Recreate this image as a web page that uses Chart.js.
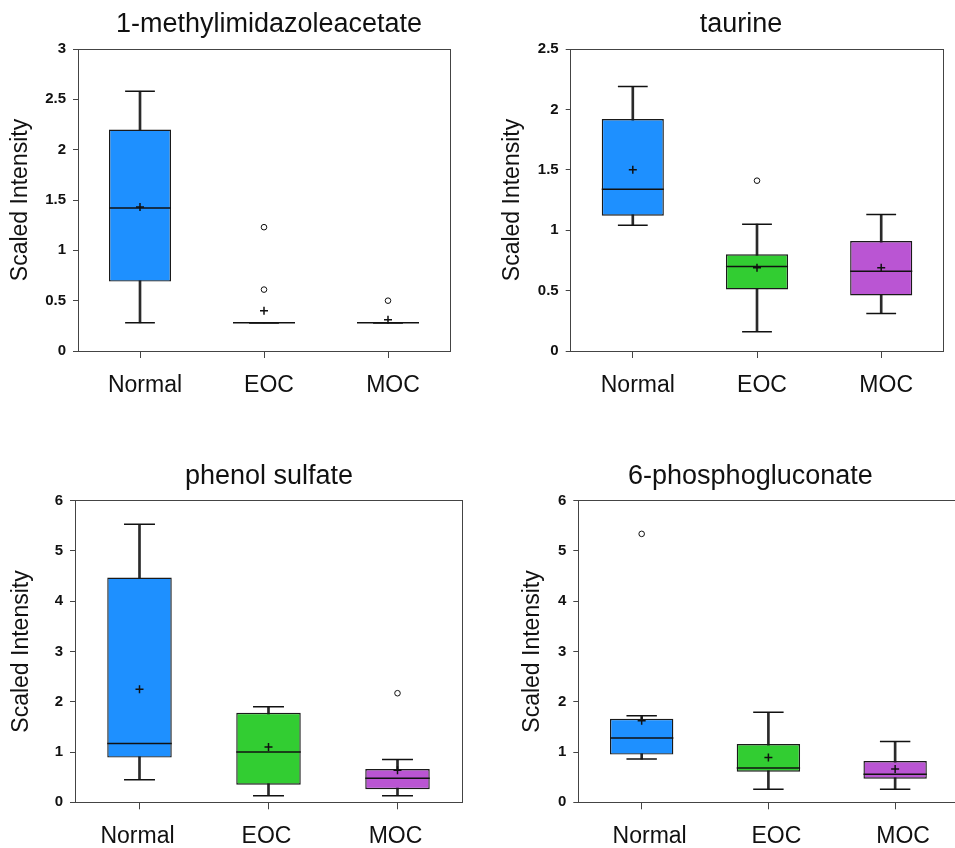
<!DOCTYPE html>
<html><head><meta charset="utf-8">
<script src="https://cdn.jsdelivr.net/npm/chart.js@4.4.1/dist/chart.umd.min.js"></script>
<style>
html,body{margin:0;padding:0;background:#fff;width:955px;height:848px;overflow:hidden;position:relative}
canvas{position:absolute}
</style></head><body>
<canvas id="c1"></canvas>
<canvas id="c2"></canvas>
<canvas id="c3"></canvas>
<canvas id="c4"></canvas>
<script>
// ---------- data ----------
const categories = ['Normal', 'EOC', 'MOC'];
const boxColors = ['#1e90ff', '#32cd32', '#ba55d3'];
const yAxisTitle = 'Scaled Intensity';

// 1-methylimidazoleacetate
const title1 = '1-methylimidazoleacetate';
const min1 = [0.28, 0.28, 0.28];
const q1_1 = [0.69, 0.28, 0.28];
const med1 = [1.42, 0.28, 0.28];
const q3_1 = [2.20, 0.28, 0.28];
const max1 = [2.58, 0.28, 0.28];
const mean1 = [1.43, 0.40, 0.31];
const out1 = [[], [1.23, 0.61], [0.50]];
const ticks1 = [0, 0.5, 1, 1.5, 2, 2.5, 3];

// taurine
const title2 = 'taurine';
const min2 = [1.04, 0.16, 0.31];
const q1_2 = [1.12, 0.51, 0.46];
const med2 = [1.34, 0.70, 0.66];
const q3_2 = [1.92, 0.80, 0.91];
const max2 = [2.19, 1.05, 1.13];
const mean2 = [1.50, 0.69, 0.69];
const out2 = [[], [1.41], []];
const ticks2 = [0, 0.5, 1, 1.5, 2, 2.5];

// phenol sulfate
const title3 = 'phenol sulfate';
const min3 = [0.45, 0.13, 0.13];
const q1_3 = [0.89, 0.35, 0.26];
const med3 = [1.17, 1.00, 0.48];
const q3_3 = [4.47, 1.78, 0.66];
const max3 = [5.53, 1.90, 0.85];
const mean3 = [2.25, 1.10, 0.64];
const out3 = [[], [], [2.17]];
const ticks3 = [0, 1, 2, 3, 4, 5, 6];

// 6-phosphogluconate
const title4 = '6-phosphogluconate';
const min4 = [0.86, 0.26, 0.26];
const q1_4 = [0.95, 0.61, 0.47];
const med4 = [1.28, 0.68, 0.56];
const q3_4 = [1.66, 1.16, 0.82];
const max4 = [1.72, 1.79, 1.21];
const mean4 = [1.62, 0.89, 0.66];
const out4 = [[5.34], [], []];
const ticks4 = [0, 1, 2, 3, 4, 5, 6];

// ---------- rendering ----------
Chart.defaults.font.family = '"Liberation Sans", Arial, sans-serif';
Chart.defaults.color = '#111';

const titleShift = {
  id: 'titleShift',
  afterLayout(chart, args, opts) {
    const t = chart.titleBlock;
    if (!t) return;
    const ca = chart.chartArea;
    const cx = (ca.left + ca.right) / 2 + (opts.dx || 0);
    const half = (t.right - t.left) / 2;
    t.left = cx - half;
    t.right = cx + half;
  }
};

const AX = '#444';

function makeChart(id, lay, d) {
  const cv = document.getElementById(id);
  cv.width = lay.w; cv.height = lay.h;
  cv.style.width = lay.w + 'px'; cv.style.height = lay.h + 'px';
  cv.style.left = lay.x + 'px'; cv.style.top = lay.y + 'px';
  const band = c => c.chart.scales.x.width / categories.length;
  const outPts = d.out.flatMap((arr, i) => arr.map(v => ({x: categories[i], y: v})));
  const pointSet = (label, data, style, radius, width, order, fill) => ({
    type: 'line', label, data, showLine: false, pointStyle: style,
    pointRadius: radius, pointHoverRadius: radius,
    pointBorderColor: '#111', pointBackgroundColor: fill || '#111',
    pointBorderWidth: width, borderColor: '#111', order
  });
  new Chart(cv, {
    type: 'bar',
    data: {
      labels: categories,
      datasets: [
        {type: 'bar', label: 'whisker', data: categories.map((c, i) => [d.min[i], d.max[i]]),
         backgroundColor: '#2a2a2a', barThickness: 2, grouped: false, order: 6},
        {type: 'bar', label: 'box', data: categories.map((c, i) => [d.q1[i], d.q3[i]]),
         backgroundColor: boxColors, borderColor: '#1a1a1a', borderWidth: 1.4, borderSkipped: false,
         barPercentage: 0.5, categoryPercentage: 1, grouped: false, order: 5},
        pointSet('max', d.max, 'line', c => band(c) * 0.12, 1.5, 4),
        pointSet('min', d.min, 'line', c => band(c) * 0.12, 1.5, 4),
        pointSet('median', d.med, 'line', c => band(c) * 0.25, 1.5, 3),
        pointSet('mean', d.mean, 'cross', 4, 1.5, 2),
        pointSet('outlier', outPts, 'circle', 2.8, 1, 1, '#fff')
      ]
    },
    options: {
      responsive: false, animation: false, events: [],
      layout: {padding: {left: 0, right: lay.padR, top: 0, bottom: 0}},
      plugins: {
        legend: {display: false},
        tooltip: {enabled: false},
        title: {display: true, text: d.title, color: '#111',
                font: {size: 27, weight: 'normal', lineHeight: 1.1},
                padding: {top: lay.tTop, bottom: lay.tBot}},
        titleShift: {dx: lay.shift}
      },
      scales: {
        x: {
          afterFit: s => { s.height = lay.xH; },
          ticks: {color: '#111', font: {size: 23}, padding: 14, labelOffset: lay.lblOff},
          grid: {display: true, drawOnChartArea: false, offset: false, tickLength: 7, tickColor: AX},
          border: {display: true, color: AX, width: 1}
        },
        y: {
          min: 0, max: d.ticks[d.ticks.length - 1],
          afterBuildTicks: s => { s.ticks = d.ticks.map(v => ({value: v})); },
          afterFit: s => { s.width = lay.yW; },
          ticks: {color: '#111', font: {size: 15, weight: 'bold'}, padding: 7, autoSkip: false,
                  callback: v => String(v)},
          grid: {display: true, drawOnChartArea: false, tickLength: 5, tickColor: AX},
          border: {display: true, color: AX, width: 1},
          title: {display: true, text: yAxisTitle, color: '#111', font: {size: 23},
                  padding: {top: lay.ytPad, bottom: 0}}
        },
        x2: {
          type: 'category', position: 'top', display: true,
          afterFit: s => { s.height = 0; },
          ticks: {display: false}, grid: {display: false, drawTicks: false},
          border: {display: true, color: AX, width: 1}
        },
        y2: {
          type: 'linear', position: 'right', display: true,
          afterFit: s => { s.width = 0; },
          ticks: {display: false}, grid: {display: false, drawTicks: false},
          border: {display: true, color: AX, width: 1}
        }
      }
    },
    plugins: [titleShift]
  });
}

makeChart('c1', {x: 0, y: 0, w: 470, h: 420, yW: 78, xH: 69, padR: 20, tTop: 10, tBot: 9.3, shift: 5, ytPad: 7, lblOff: 5},
  {title: title1, min: min1, q1: q1_1, med: med1, q3: q3_1, max: max1, mean: mean1, out: out1, ticks: ticks1});
makeChart('c2', {x: 492, y: 0, w: 463, h: 420, yW: 78.7, xH: 69, padR: 11.7, tTop: 10, tBot: 9.3, shift: -16, ytPad: 7, lblOff: 5},
  {title: title2, min: min2, q1: q1_2, med: med2, q3: q3_2, max: max2, mean: mean2, out: out2, ticks: ticks2});
makeChart('c3', {x: 0, y: 452, w: 482, h: 396, yW: 75, xH: 45.7, padR: 20, tTop: 10, tBot: 9, shift: 0.5, ytPad: 8, lblOff: -2},
  {title: title3, min: min3, q1: q1_3, med: med3, q3: q3_3, max: max3, mean: mean3, out: out3, ticks: ticks3});
makeChart('c4', {x: 512, y: 452, w: 452.3, h: 396, yW: 66.3, xH: 45.7, padR: 0, tTop: 10, tBot: 9, shift: -18, ytPad: 7, lblOff: 8},
  {title: title4, min: min4, q1: q1_4, med: med4, q3: q3_4, max: max4, mean: mean4, out: out4, ticks: ticks4});
</script>
</body></html>
